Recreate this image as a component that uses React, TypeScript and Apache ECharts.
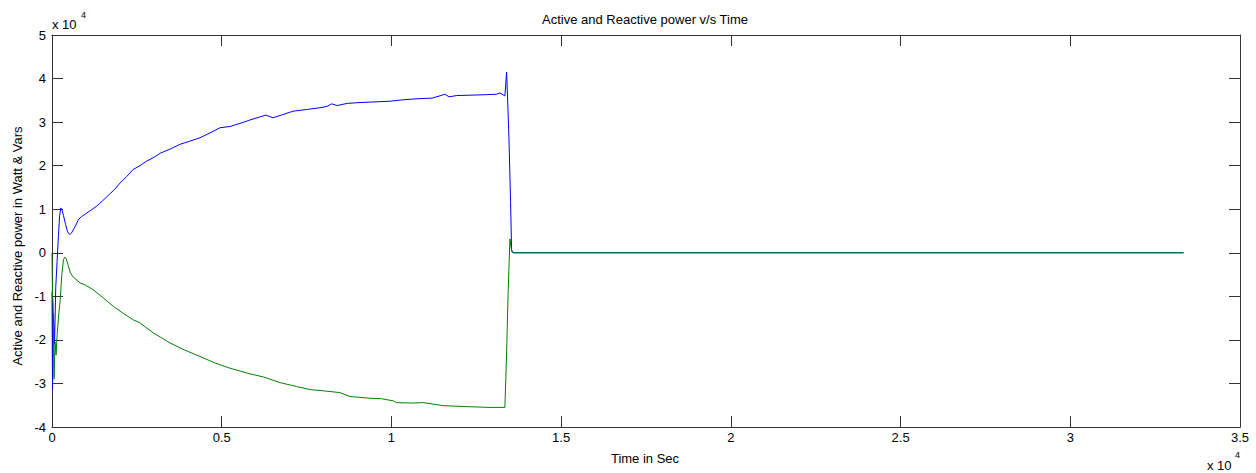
import React, { useEffect, useRef } from "react";
import * as echarts from "echarts";

// Time in seconds, power in W / VAr
const activeTime = [0, 15, 45, 75, 110, 150, 190, 225, 256, 290, 340, 400, 460, 520, 580, 650, 720, 775, 870, 1000, 1150, 1317, 1500, 1700, 1850, 2003, 2200, 2386, 2592, 2780, 2977, 3200, 3450, 3770, 4050, 4359, 4650, 4948, 5250, 5538, 5800, 6127, 6300, 6510, 6750, 7098, 7500, 7894, 8100, 8238, 8400, 8700, 9072, 9400, 9956, 10300, 10840, 11200, 11576, 11700, 11920, 12400, 12800, 13098, 13200, 13343, 13393, 13420, 13461, 13511, 13540, 13580, 33340];
const activePower = [-9000, -31500, -14000, -21000, -8000, -2000, 4000, 8500, 10300, 10000, 8500, 6500, 4800, 4200, 4600, 5600, 6600, 7600, 8300, 9000, 9800, 10700, 12000, 13500, 14600, 16000, 17500, 19100, 20000, 21000, 21800, 22900, 23700, 24900, 25600, 26400, 27500, 28700, 29000, 29700, 30400, 31200, 31600, 31000, 31600, 32500, 32900, 33300, 33600, 34200, 33800, 34300, 34500, 34600, 34800, 35100, 35400, 35500, 36400, 35800, 36100, 36200, 36300, 36400, 36700, 36000, 41500, 36000, 26800, 11500, 700, 0, 0];

const reactiveTime = [0, 12, 35, 60, 90, 120, 150, 200, 240, 290, 340, 383, 420, 480, 540, 628, 825, 1000, 1217, 1500, 1806, 2100, 2396, 2592, 2985, 3200, 3476, 3900, 4359, 4800, 5243, 5832, 6225, 6716, 7200, 7599, 8000, 8483, 8778, 9367, 9700, 10054, 10152, 10600, 10937, 11526, 12115, 12500, 12901, 13343, 13393, 13441, 13491, 13540, 13600, 33340];
const reactivePower = [0, -9000, -12000, -29000, -20500, -23500, -19000, -14000, -11000, -5000, -1500, -1000, -1400, -3000, -4600, -5600, -6900, -7500, -8500, -10300, -12300, -13900, -15400, -16100, -18400, -19400, -20700, -22300, -23800, -25300, -26500, -27800, -28500, -29800, -30700, -31400, -31700, -32100, -33000, -33400, -33500, -34000, -34400, -34500, -34400, -35100, -35300, -35400, -35500, -35500, -23000, -8500, 3200, 300, 0, 0];

const xMin = 0, xMax = 35000, xStep = 5000;
const yMin = -40000, yMax = 50000, yStep = 10000;

const titleText = "Active and Reactive power v/s Time";
const xName = "Time in Sec";
const yName = "Active and Reactive power in Watt & Vars";

export default function App() {
  const ref = useRef<HTMLDivElement>(null);
  useEffect(() => {
    if (!ref.current) return;
    const chart = echarts.init(ref.current, null, { renderer: "svg" });
    const font = "Arial, 'Liberation Sans', sans-serif";
    const axisColor = "#333";
    const fmt = (v: number) => String(Math.round((v / 1e4) * 10) / 10);
    const xCommon = {
      type: "value" as const,
      min: xMin,
      max: xMax,
      interval: xStep,
      splitLine: { show: false },
      axisLine: { show: true, onZero: false, lineStyle: { color: axisColor, width: 1 } },
      axisTick: { show: true, inside: true, length: 11, lineStyle: { color: axisColor } },
    };
    const yCommon = {
      type: "value" as const,
      min: yMin,
      max: yMax,
      interval: yStep,
      splitLine: { show: false },
      axisLine: { show: true, onZero: false, lineStyle: { color: axisColor, width: 1 } },
      axisTick: { show: true, inside: true, length: 11, lineStyle: { color: axisColor } },
    };
    chart.setOption({
      animation: false,
      backgroundColor: "#fff",
      grid: { left: 52, right: 16, top: 35, bottom: 46, containLabel: false },
      xAxis: [
        { ...xCommon, position: "bottom", axisLabel: { formatter: fmt, color: "#000", fontSize: 13, fontFamily: font, margin: 4 } },
        { ...xCommon, position: "top", axisLabel: { show: false } },
      ],
      yAxis: [
        { ...yCommon, position: "left", axisLabel: { formatter: fmt, color: "#000", fontSize: 13, fontFamily: font, margin: 6 } },
        { ...yCommon, position: "right", axisLabel: { show: false } },
      ],
      graphic: [
        { type: "text", x: 645, y: 19, style: { text: titleText, fontSize: 13, fontFamily: font, fill: "#000", align: "center", verticalAlign: "middle" } },
        { type: "text", x: 645, y: 458, style: { text: xName, fontSize: 13, fontFamily: font, fill: "#000", align: "center", verticalAlign: "middle" } },
        { type: "text", x: 17, y: 246, rotation: Math.PI / 2, style: { text: yName, fontSize: 13, fontFamily: font, fill: "#000", align: "center", verticalAlign: "middle" } },
        { type: "text", x: 52, y: 24, style: { text: "x 10", fontSize: 13, fontFamily: font, fill: "#000", verticalAlign: "middle" } },
        { type: "text", x: 81, y: 15, style: { text: "4", fontSize: 9, fontFamily: font, fill: "#000", verticalAlign: "middle" } },
        { type: "text", x: 1207, y: 465, style: { text: "x 10", fontSize: 13, fontFamily: font, fill: "#000", verticalAlign: "middle" } },
        { type: "text", x: 1235, y: 455, style: { text: "4", fontSize: 9, fontFamily: font, fill: "#000", verticalAlign: "middle" } },
      ],
      series: [
        {
          name: "Active power",
          type: "line",
          xAxisIndex: 0,
          yAxisIndex: 0,
          data: activeTime.map((t, i) => [t, activePower[i]]),
          showSymbol: false,
          symbol: "none",
          lineStyle: { color: "#0000ff", width: 1 },
          z: 2,
        },
        {
          name: "Reactive power",
          type: "line",
          xAxisIndex: 0,
          yAxisIndex: 0,
          data: reactiveTime.map((t, i) => [t, reactivePower[i]]),
          showSymbol: false,
          symbol: "none",
          lineStyle: { color: "#008000", width: 1 },
          z: 3,
        },
      ],
    });
    return () => chart.dispose();
  }, []);
  return <div ref={ref} style={{ position: "fixed", left: 0, top: 0, width: 1256, height: 473 }} />;
}
